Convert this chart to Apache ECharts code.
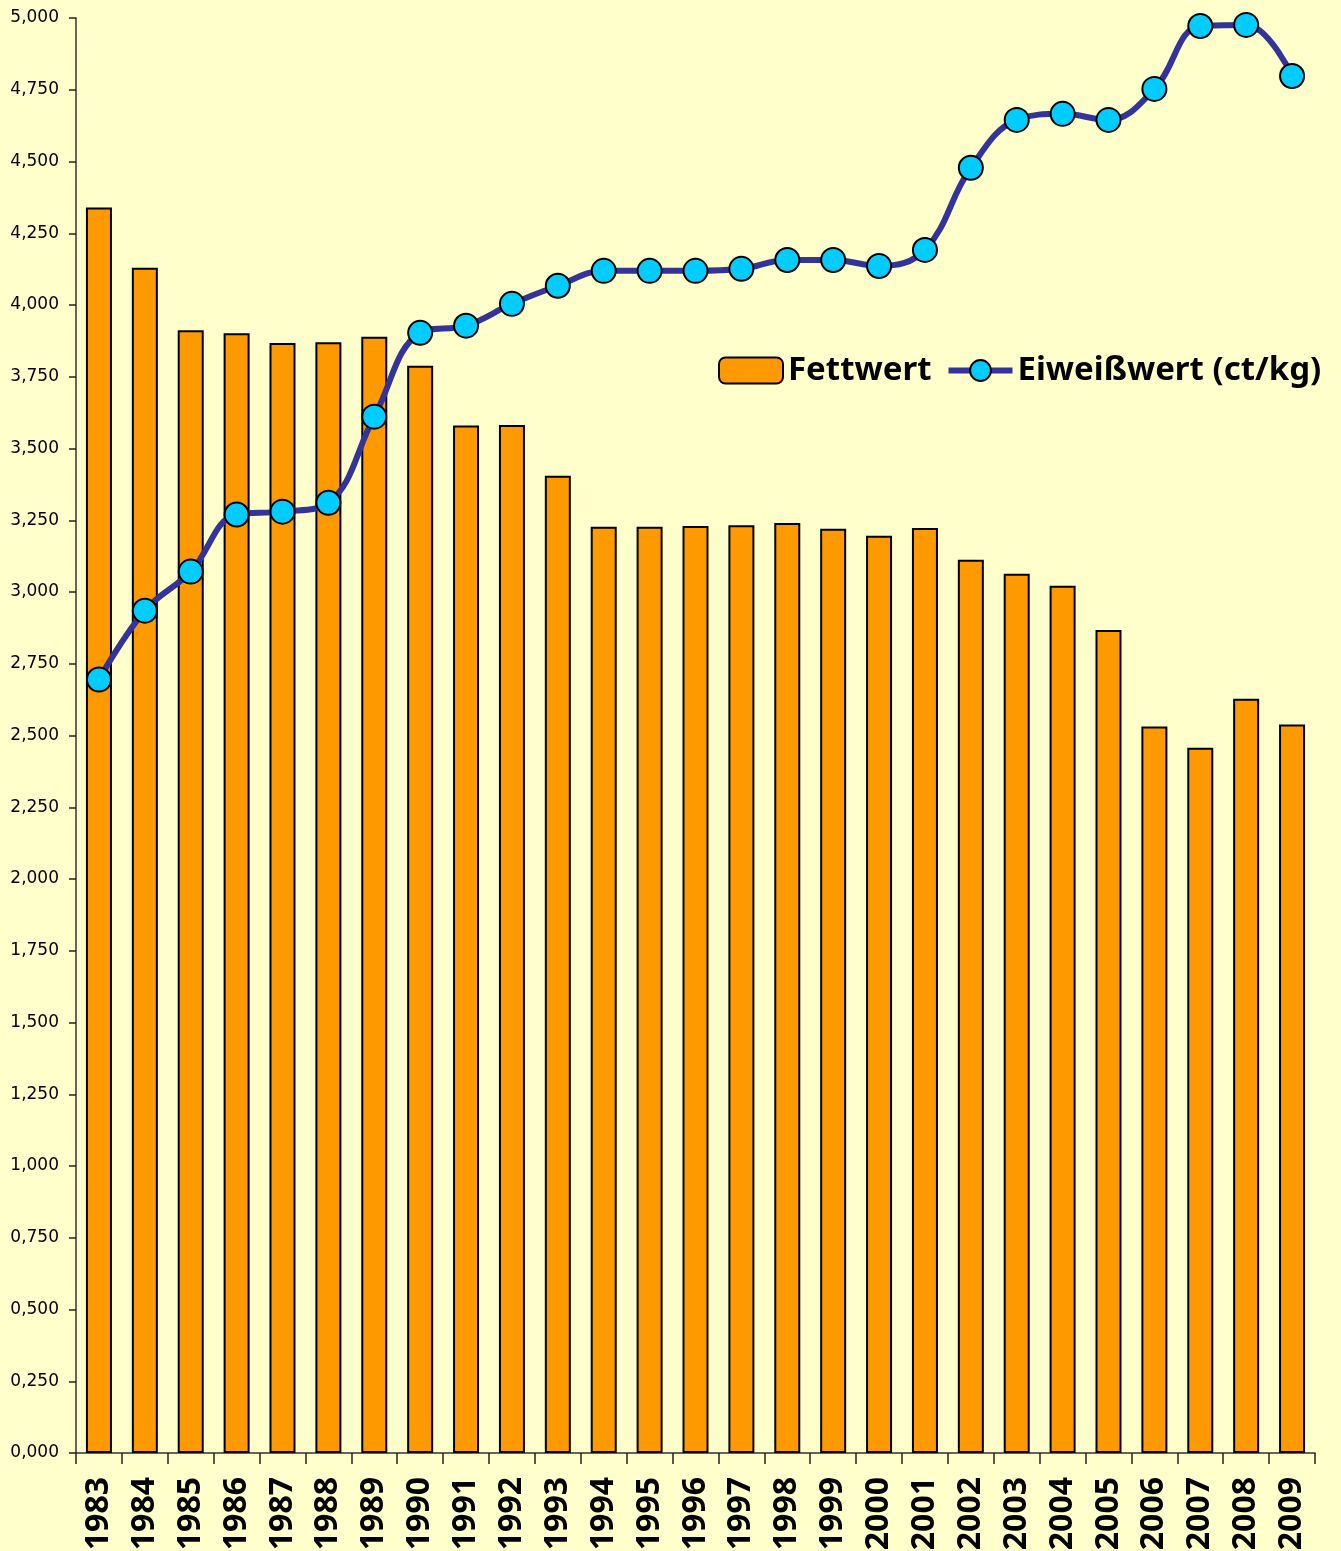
<!DOCTYPE html>
<html>
<head>
<meta charset="utf-8">
<script src="https://cdn.jsdelivr.net/npm/echarts@6/dist/echarts.min.js"></script>
<style>
  html, body { margin: 0; padding: 0; background: #ffffcc; }
  #main { width: 1341px; height: 1551px; }
</style>
</head>
<body>
<div id="main"></div>
<script>
const years = ["1983", "1984", "1985", "1986", "1987", "1988", "1989", "1990", "1991", "1992",
  "1993", "1994", "1995", "1996", "1997", "1998", "1999", "2000", "2001", "2002",
  "2003", "2004", "2005", "2006", "2007", "2008", "2009"];
// Fettwert (bars)
const fettwert = [4.340, 4.130, 3.912, 3.902, 3.868, 3.870, 3.889, 3.788, 3.580, 3.582,
  3.405, 3.227, 3.227, 3.230, 3.233, 3.240, 3.220, 3.196, 3.223, 3.112,
  3.064, 3.022, 2.868, 2.531, 2.457, 2.628, 2.538];
// Eiweißwert (line)
const eiweiss = [2.695, 2.935, 3.071, 3.270, 3.280, 3.311, 3.611, 3.903, 3.928, 4.004,
  4.067, 4.119, 4.119, 4.119, 4.126, 4.157, 4.157, 4.136, 4.192, 4.478,
  4.645, 4.666, 4.645, 4.753, 4.972, 4.976, 4.798];

const chart = echarts.init(document.getElementById("main"));
const option = {
  backgroundColor: "#ffffcc",
  animation: false,
  grid: { left: 76, right: 26, top: 18, bottom: 98, outerBoundsMode: "none" },
  legend: {
    left: 713,
    top: 349,
    itemWidth: 64,
    itemHeight: 26,
    itemGap: 14,
    textStyle: { fontFamily: "Noto Sans", fontWeight: "bold", fontSize: 33, color: "#000" },
    data: [
      { name: "Fettwert" },
      {
        name: "Eiweißwert (ct/kg)",
        lineStyle: { color: "#333399", width: 6 }
      }
    ]
  },
  xAxis: {
    type: "category",
    data: years,
    axisLine: { lineStyle: { color: "#333", width: 1.5 } },
    axisTick: { show: true, length: 11, lineStyle: { color: "#222", width: 1.5 } },
    axisLabel: {
      rotate: 90,
      margin: 24,
      fontFamily: "Noto Sans",
      fontWeight: "bold",
      fontSize: 32,
      color: "#000"
    }
  },
  yAxis: {
    type: "value",
    min: 0,
    max: 5,
    interval: 0.25,
    splitLine: { show: false },
    axisLine: { show: true, lineStyle: { color: "#333", width: 1.5 } },
    axisTick: { show: true, length: 7, lineStyle: { color: "#222", width: 1.5 } },
    axisLabel: {
      margin: 17,
      fontFamily: "DejaVu Sans",
      fontSize: 17,
      color: "#000",
      formatter: v => v.toFixed(3).replace(".", ",")
    }
  },
  series: [
    {
      name: "Fettwert",
      type: "bar",
      data: fettwert,
      barWidth: 26,
      itemStyle: { color: "#ff9900", borderColor: "#000", borderWidth: 2 }
    },
    {
      name: "Eiweißwert (ct/kg)",
      type: "line",
      data: eiweiss,
      smooth: 0.4,
      symbol: "circle",
      symbolSize: 24,
      lineStyle: { color: "#333399", width: 6 },
      itemStyle: { color: "#00ccff", borderColor: "#000", borderWidth: 2 }
    }
  ]
};
chart.setOption(option);
</script>
</body>
</html>
